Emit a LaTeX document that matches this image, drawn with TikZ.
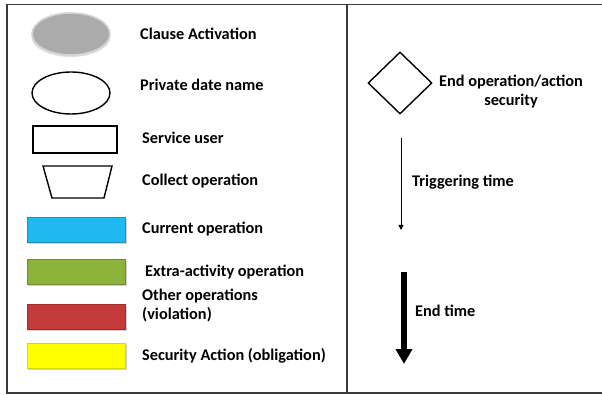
\documentclass[tikz,border=0pt]{standalone}
\usepackage{fontspec}
\setmainfont{Carlito}
\usetikzlibrary{arrows.meta,shapes.geometric}

\definecolor{frameline}{HTML}{3A3A3A}
\definecolor{activegray}{HTML}{ABABAB}
\definecolor{activerim}{HTML}{D4D4D4}
\definecolor{opblue}{HTML}{1DB9F0}
\definecolor{opgreen}{HTML}{8CB23C}
\definecolor{opred}{HTML}{C23A3A}
\definecolor{opyellow}{HTML}{FFFF00}

\tikzset{
  label/.style={anchor=west, font=\bfseries\fontsize{16.3}{19}\selectfont, inner sep=0pt, align=left},
  oval/.style={ellipse, minimum width=78pt, minimum height=42pt, inner sep=0pt},
  bar/.style={rectangle, minimum width=98pt, minimum height=25pt, inner sep=0pt},
  barshadow/.style={fill=black!18},
}

\begin{document}
\begin{tikzpicture}[x=1pt,y=-1pt]
\useasboundingbox (0,0) rectangle (602,395);
\fill[white] (0,0) rectangle (602,395);

% frame and column divider
\draw[frameline, line width=1.8pt] (7,4.5) -- (604,4.5);
\draw[frameline, line width=1.3pt] (7,4.5) -- (7,393) -- (604,393);
\draw[frameline, line width=1.2pt] (347,4.5) -- (347,393);

% clause activation
\fill[black!12] (71,36.5) ellipse (39.5pt and 20.5pt);
\node[oval, fill=activegray, draw=activerim, line width=1.6pt] (act) at (71,34) {};
\node[label] (actt) at (140,34) {Clause Activation};

% private date name
\node[oval, draw=black, line width=1.4pt, fill=white] (priv) at (71,93) {};
\node[label] (privt) at (140,85) {Private date name};

% service user
\node[rectangle, draw=black, line width=1.4pt, minimum width=84pt, minimum height=27pt, inner sep=0pt] (serv) at (75,139.5) {};
\node[label] (servt) at (142,138) {Service user};

% collect operation
\coordinate (c1) at (43,166);
\coordinate (c2) at (112,166);
\coordinate (c3) at (104,198);
\coordinate (c4) at (52,198);
\draw[black, line width=1.4pt, line join=miter] (c1) -- (c2) -- (c3) -- (c4) -- cycle;
\node[label] (collt) at (142,181) {Collect operation};

% coloured operation bars
\fill[barshadow] (28,219) rectangle (127,244);
\node[bar, fill=opblue, draw=opblue!80!black, line width=0.6pt] (cur) at (76,229.5) {};
\node[label] (curt) at (142,229) {Current operation};

\fill[barshadow] (28,261) rectangle (127,286);
\node[bar, fill=opgreen, draw=opgreen!80!black, line width=0.6pt] (extra) at (76,271.5) {};
\node[label] (extrat) at (145,272) {Extra-activity operation};

\fill[barshadow] (28,306) rectangle (127,331);
\node[bar, fill=opred, draw=opred!80!black, line width=0.6pt] (other) at (76,316.5) {};
\node[label] (othert) at (142,306) {Other operations\\(violation)};

\fill[barshadow] (28,345) rectangle (127,370);
\node[bar, fill=opyellow, draw=opyellow!85!black, line width=0.6pt] (sec) at (76,355.5) {};
\node[label] (sect) at (142,356) {Security Action (obligation)};

% end operation / action security
\node[diamond, draw=black, line width=1.4pt, minimum width=64pt, minimum height=62pt, inner sep=0pt] (endop) at (400,83) {};
\node[label, align=center, anchor=center] (endopt) at (511,92) {End operation/action\\security};

% triggering time
\coordinate (trigA) at (401,138);
\coordinate (trigB) at (401,230);
\draw[black, line width=0.9pt, -{Triangle[width=5pt,length=5pt]}] (trigA) -- (trigB);
\node[label] (trigt) at (412,182) {Triggering time};

% end time
\coordinate (endA) at (404,272);
\coordinate (endB) at (404,364);
\draw[black, line width=6.5pt, -{Triangle[width=16pt,length=15pt]}] (endA) -- (endB);
\node[label] (endt) at (415,311) {End time};
\end{tikzpicture}
\end{document}
